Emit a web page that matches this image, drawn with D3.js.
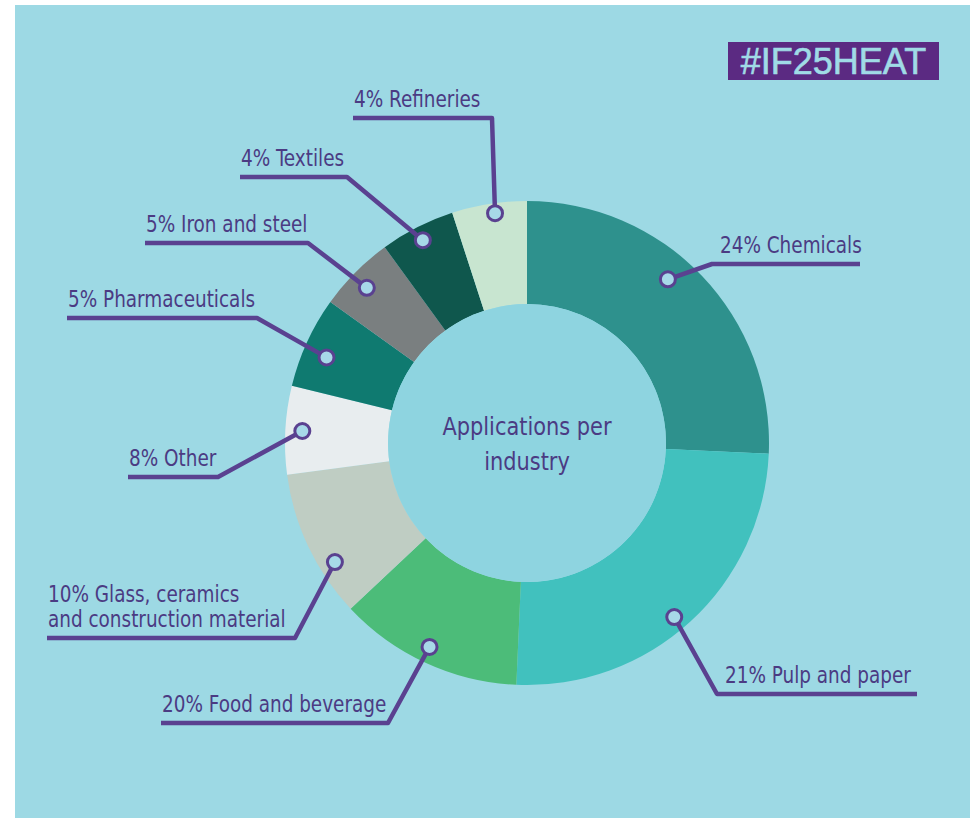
<!DOCTYPE html>
<meta charset="utf-8">
<style>
body { margin: 0; background: #fff; }
.label {
  font: 23px "Liberation Sans Narrow", "Arial Narrow", "DejaVu Sans Condensed", sans-serif;
  fill: #4b3b83;
}
.center {
  font: 25px "Liberation Sans Narrow", "Arial Narrow", "DejaVu Sans Condensed", sans-serif;
  fill: #4b3b83;
  text-anchor: middle;
}
</style>
<svg width="970" height="818"></svg>
<script src="https://cdn.jsdelivr.net/npm/d3@7/dist/d3.min.js"></script>
<script>

// industries, clockwise from 12 o'clock
var categories = ["Chemicals", "Pulp and paper", "Food and beverage",
    "Glass, ceramics|and construction material", "Other", "Pharmaceuticals",
    "Iron and steel", "Textiles", "Refineries"];
// percentages printed on the labels
var percents = [24, 21, 20, 10, 8, 5, 5, 4, 4];
// share of the ring each slice actually takes in the picture
var shares = [25.7, 25.0, 12.3, 9.9, 5.9, 6.1, 5.1, 5.0, 5.0];
var colors = ["#2e918d", "#41c1be", "#4cbc79", "#bfcdc3", "#e8edef",
    "#0f7a70", "#7a7f80", "#0f574d", "#c8e5d0"];

// leader line layout: where the dot sits in its slice, elbow point, end of underline
var leaders = [
  {at: 0.44, r: 216, ex: 712, ey: 264, hx: 860},
  {at: 0.525, r: 228, ex: 717, ey: 694, hx: 917},
  {at: 0.52, r: 226, ex: 388, ey: 723, hx: 161},
  {at: 0.32, r: 226, ex: 295, ey: 638, hx: 47},
  {at: 0.5, r: 225, ex: 218, ey: 477, hx: 128},
  {at: 0.43, r: 218, ex: 257, ey: 318, hx: 67},
  {at: 0.46, r: 223, ex: 308, ey: 243, hx: 145},
  {at: 0.49, r: 228, ex: 347, ey: 177, hx: 240},
  {at: 0.56, r: 232, ex: 492, ey: 118, hx: 353}
];

var svg = d3.select("svg"),
    cx = 527, cy = 443,
    outer = 242, inner = 139,
    squeeze = 0.89,   // the original face is narrower than anything installed
    ink = "#5a4190";

svg.append("rect")
    .attr("x", 15).attr("y", 5)
    .attr("width", 955).attr("height", 813)
    .attr("fill", "#9dd9e4");

var data = categories.map(function(c, i) {
  return {name: c, pct: percents[i], share: shares[i], color: colors[i], lead: leaders[i]};
});

var pie = d3.pie().sort(null).value(function(d) { return d.share; });
var arc = d3.arc().innerRadius(inner).outerRadius(outer);
var arcs = pie(data);

var g = svg.append("g").attr("transform", "translate(" + cx + "," + cy + ")");

g.selectAll("path.slice")
  .data(arcs)
  .enter().append("path")
    .attr("class", "slice")
    .attr("d", arc)
    .attr("fill", function(d) { return d.data.color; });

g.append("circle")
    .attr("r", inner)
    .attr("fill", "#8ed4e0");

g.append("text").attr("class", "center")
    .attr("transform", "translate(0,-8) scale(0.93,1)")
    .text("Applications per");
g.append("text").attr("class", "center")
    .attr("transform", "translate(0,27) scale(0.93,1)")
    .text("industry");

// leader lines
var lead = svg.selectAll("g.lead")
  .data(arcs)
  .enter().append("g")
    .attr("class", "lead");

lead.each(function(d) {
  var L = d.data.lead,
      a = d.startAngle + L.at * (d.endAngle - d.startAngle),
      p = d3.pointRadial(a, L.r),
      dot = [cx + p[0], cy + p[1]],
      sel = d3.select(this);

  sel.append("path")
      .attr("d", d3.line()([dot, [L.ex, L.ey], [L.hx, L.ey]]))
      .attr("fill", "none")
      .attr("stroke", ink)
      .attr("stroke-width", 4.5)
      .attr("stroke-linejoin", "round");

  sel.append("circle")
      .attr("cx", dot[0]).attr("cy", dot[1])
      .attr("r", 7.5)
      .attr("fill", "#a7d9e8")
      .attr("stroke", ink)
      .attr("stroke-width", 3);

  var right = L.hx > L.ex,
      x = right ? L.ex + 8 : L.hx + 1,
      lines = (d.data.pct + "% " + d.data.name).split("|");

  lines.forEach(function(t, i) {
    var y = L.ey - 11 - (lines.length - 1 - i) * 25;
    sel.append("text")
        .attr("class", "label")
        .attr("transform", "translate(" + x + "," + y + ") scale(" + squeeze + ",1)")
        .text(t);
  });
});

// hashtag badge
svg.append("rect")
    .attr("x", 728).attr("y", 42)
    .attr("width", 211).attr("height", 38)
    .attr("fill", "#5b2a82");
svg.append("text")
    .attr("x", 833.5).attr("y", 74)
    .attr("text-anchor", "middle")
    .style("font", "36px 'Liberation Sans', Arial, sans-serif")
    .attr("fill", "#a0dbe6")
    .attr("stroke", "#a0dbe6")
    .attr("stroke-width", 0.6)
    .text("#IF25HEAT");

</script>
